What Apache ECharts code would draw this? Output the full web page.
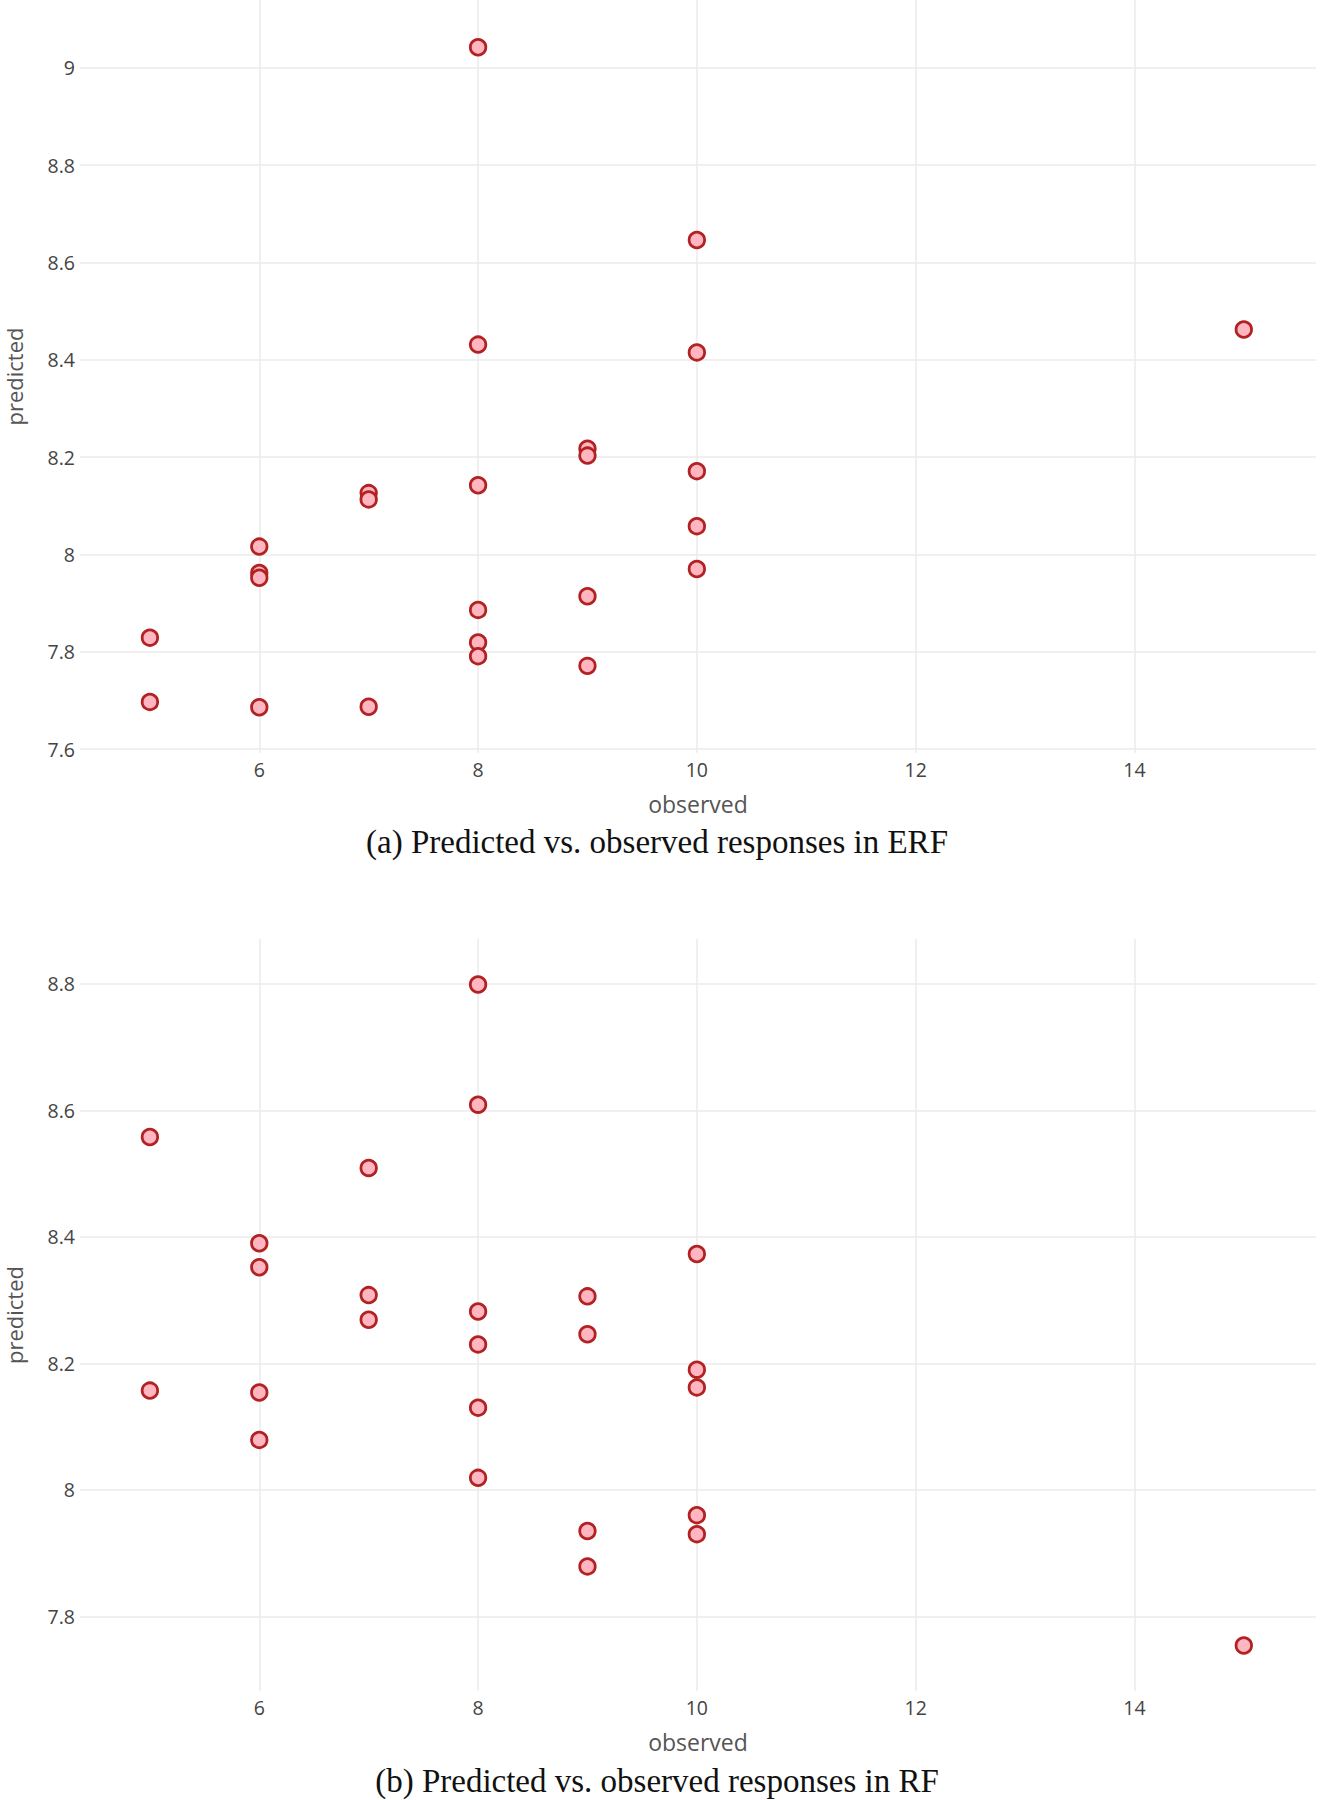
<!DOCTYPE html>
<html>
<head>
<meta charset="utf-8">
<script src="https://cdn.jsdelivr.net/npm/echarts@6/dist/echarts.min.js"></script>
<style>
html,body{margin:0;padding:0;background:#fff;}
#c{width:1329px;height:1800px;}
</style>
</head>
<body>
<div id="c"></div>
<script>
// ---- data ----
const xTicks = [6, 8, 10, 12, 14];
const yTicksA = [7.6, 7.8, 8, 8.2, 8.4, 8.6, 8.8, 9];
const yTicksB = [7.8, 8, 8.2, 8.4, 8.6, 8.8];

const erfObserved  = [5, 5, 6, 6, 6, 6, 7, 7, 7, 8, 8, 8, 8, 8, 8, 9, 9, 9, 9, 10, 10, 10, 10, 10, 15];
const erfPredicted = [7.829, 7.697, 8.016, 7.962, 7.952, 7.686, 8.126, 8.113, 7.687, 9.042, 8.431, 8.142, 7.886, 7.819, 7.791, 8.217, 8.203, 7.914, 7.771, 8.646, 8.415, 8.171, 8.058, 7.970, 8.462];

const rfObserved  = [5, 5, 6, 6, 6, 6, 7, 7, 7, 8, 8, 8, 8, 8, 8, 9, 9, 9, 9, 10, 10, 10, 10, 10, 15];
const rfPredicted = [8.558, 8.157, 8.390, 8.352, 8.154, 8.079, 8.509, 8.308, 8.269, 8.799, 8.609, 8.282, 8.230, 8.130, 8.019, 8.306, 8.246, 7.935, 7.879, 8.373, 8.190, 8.162, 7.960, 7.930, 7.754];

const captionA = '(a) Predicted vs. observed responses in ERF';
const captionB = '(b) Predicted vs. observed responses in RF';

// ---- chart ----
const pairs = (xs, ys) => xs.map((x, i) => [x, ys[i]]);
const fmt = v => String(+(+v).toFixed(1));
const sans = '"Open Sans", Verdana, Arial, sans-serif';
const gridLine = { show: true, lineStyle: { color: '#ebebeb', width: 1.5 } };

function xAxis(gi) {
  return {
    type: 'value', gridIndex: gi, min: 4.361, max: 15.66,
    axisLine: { show: false }, axisTick: { show: false, customValues: xTicks },
    axisLabel: { customValues: xTicks, formatter: fmt, color: '#444', fontSize: 19.5, fontFamily: sans, margin: 6 },
    splitLine: gridLine,
    name: 'observed', nameLocation: 'middle', nameGap: 39,
    nameTextStyle: { color: '#555', fontSize: 23, fontFamily: sans }
  };
}
function yAxis(gi, min, max, ticks) {
  return {
    type: 'value', gridIndex: gi, min: min, max: max,
    axisLine: { show: false }, axisTick: { show: false, customValues: ticks },
    axisLabel: { customValues: ticks, formatter: fmt, color: '#444', fontSize: 19.5, fontFamily: sans, margin: 5 },
    splitLine: gridLine,
    name: 'predicted', nameLocation: 'middle', nameGap: 55, nameRotate: 90,
    nameTextStyle: { color: '#555', fontSize: 22, fontFamily: sans }
  };
}
const markerStyle = { color: '#ffb6c1', borderColor: '#b22222', borderWidth: 2.8, opacity: 1 };

const chart = echarts.init(document.getElementById('c'), null, { renderer: 'svg' });
chart.setOption({
  animation: false,
  backgroundColor: '#fff',
  grid: [
    { left: 80, top: 0, width: 1236, height: 753, outerBoundsMode: 'none', containLabel: false },
    { left: 80, top: 939, width: 1236, height: 752, outerBoundsMode: 'none', containLabel: false }
  ],
  xAxis: [xAxis(0), xAxis(1)],
  yAxis: [yAxis(0, 7.592, 9.139, yTicksA), yAxis(1, 7.682, 8.871, yTicksB)],
  series: [
    { type: 'scatter', xAxisIndex: 0, yAxisIndex: 0, symbol: 'circle', symbolSize: 15.5,
      itemStyle: markerStyle, data: pairs(erfObserved, erfPredicted) },
    { type: 'scatter', xAxisIndex: 1, yAxisIndex: 1, symbol: 'circle', symbolSize: 15.5,
      itemStyle: markerStyle, data: pairs(rfObserved, rfPredicted) }
  ],
  graphic: [
    { type: 'text', x: 657, y: 842, style: { text: captionA, align: 'center', verticalAlign: 'middle', fill: '#111', font: '33px "Liberation Serif", serif' } },
    { type: 'text', x: 657, y: 1781, style: { text: captionB, align: 'center', verticalAlign: 'middle', fill: '#111', font: '33px "Liberation Serif", serif' } }
  ]
});
</script>
</body>
</html>
